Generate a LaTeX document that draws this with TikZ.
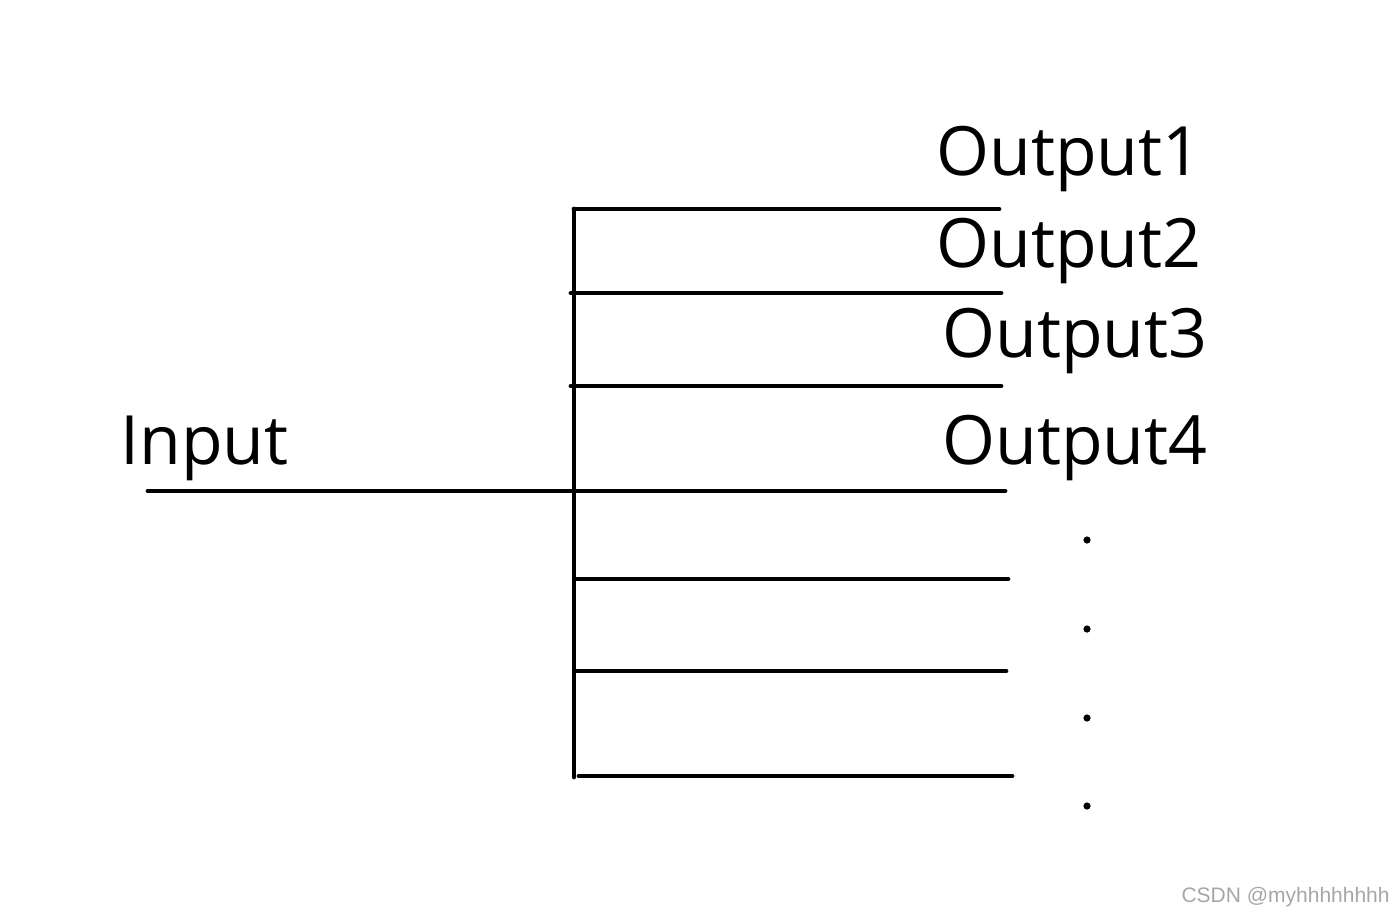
\documentclass[tikz,border=0pt]{standalone}
\usepackage{fontspec}
\setmainfont{Open Sans}
\newfontfamily\wmfont{Liberation Sans}
\begin{document}
\begin{tikzpicture}[x=0.5pt,y=-0.5pt,
  wire/.style={line width=2.4pt,line cap=round},
  lbl/.style={anchor=base west,inner sep=0pt,font=\fontsize{34}{40}\selectfont},
  dotmark/.style={circle,fill=black,inner sep=0pt,minimum size=3.6pt},
  wm/.style={anchor=base east,inner sep=0pt,text=black!35,font=\wmfont\fontsize{10.5}{12}\selectfont}]
\useasboundingbox (0,0) rectangle (1400,906);
% bus
\coordinate (vt) at (574,209);
\coordinate (vb) at (574,777);
\draw[wire] (vt) -- (vb);
% branches
\coordinate (a0) at (574,209);  \coordinate (a1) at (999,209);
\coordinate (b0) at (571,293);  \coordinate (b1) at (1001,293);
\coordinate (c0) at (571,386);  \coordinate (c1) at (1001,386);
\coordinate (d0) at (148,491);  \coordinate (d1) at (1005,491);
\coordinate (e0) at (576,579);  \coordinate (e1) at (1008,579);
\coordinate (f0) at (576,671);  \coordinate (f1) at (1006,671);
\coordinate (g0) at (579,776);  \coordinate (g1) at (1012,776);
\draw[wire] (a0) -- (a1);
\draw[wire] (b0) -- (b1);
\draw[wire] (c0) -- (c1);
\draw[wire] (d0) -- (d1);
\draw[wire] (e0) -- (e1);
\draw[wire] (f0) -- (f1);
\draw[wire] (g0) -- (g1);
% labels
\node[lbl] (in) at (120,464) {Input};
\node[lbl] (o1) at (936,175) {Output1};
\node[lbl] (o2) at (936,267) {Output2};
\node[lbl] (o3) at (942,357) {Output3};
\node[lbl] (o4) at (942,464) {Output4};
% dots
\node[dotmark] (p1) at (1087,540) {};
\node[dotmark] (p2) at (1087,629) {};
\node[dotmark] (p3) at (1087,718) {};
\node[dotmark] (p4) at (1087,806) {};
% watermark
\node[wm] (wmk) at (1390,902) {CSDN @myhhhhhhhh};
\end{tikzpicture}
\end{document}
